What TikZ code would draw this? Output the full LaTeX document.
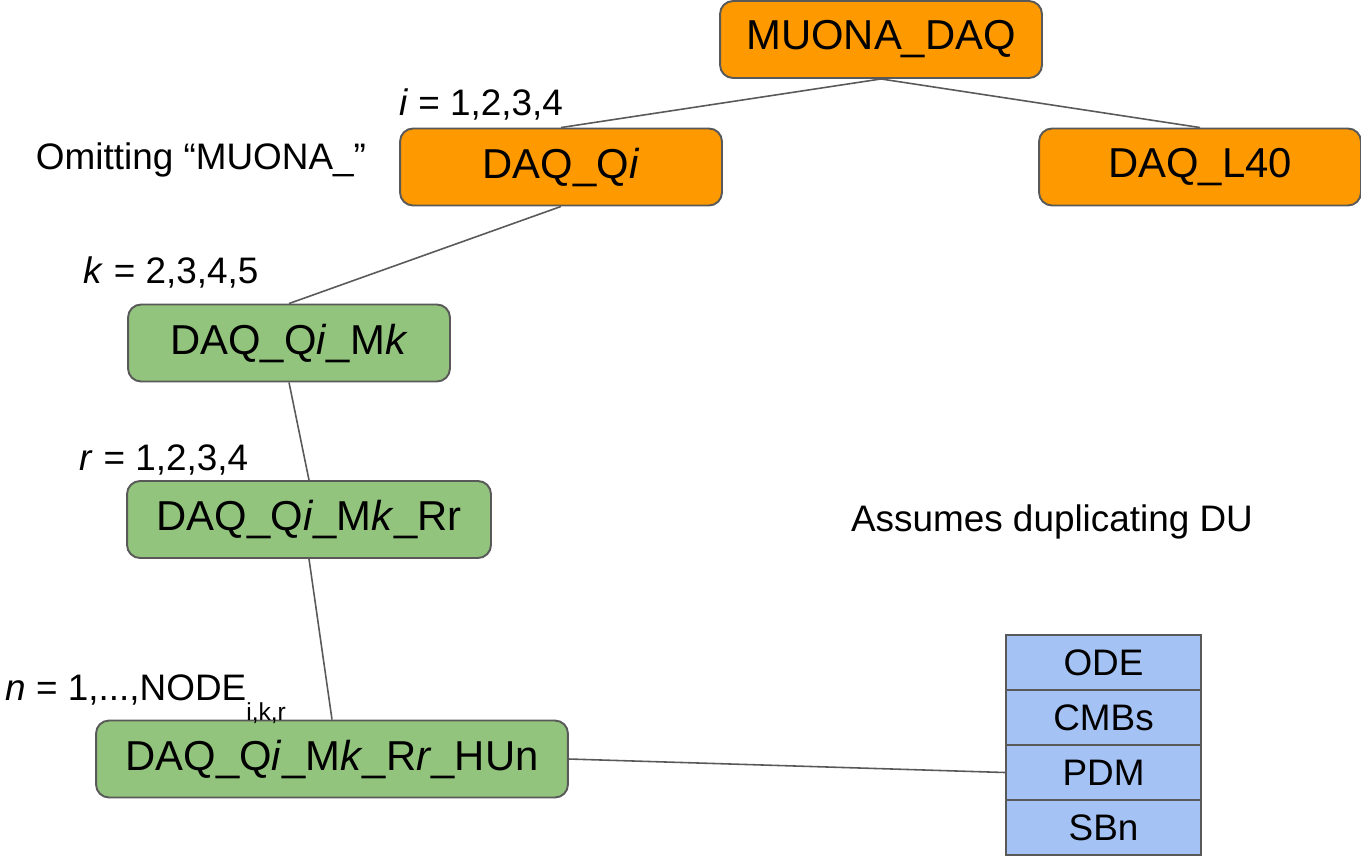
\documentclass[tikz,border=0pt]{standalone}
\usepackage{fontspec}
\setmainfont{Liberation Sans}
\definecolor{daqorange}{HTML}{FF9900}
\definecolor{daqgreen}{HTML}{93C47D}
\definecolor{daqblue}{HTML}{A4C2F4}
\definecolor{edgegray}{HTML}{595959}
\begin{document}
\begin{tikzpicture}[x=0.02cm,y=-0.02cm,
    box/.style={draw=edgegray,line width=1.1pt,rounded corners=0.26cm,
      minimum width=6.44cm,minimum height=1.54cm,inner sep=0pt,
      font=\fontsize{23.8}{28}\selectfont},
    cell/.style={draw=edgegray,line width=1.1pt,fill=daqblue,
      minimum width=3.9cm,minimum height=1.1cm,inner sep=0pt,
      font=\fontsize{21}{25}\selectfont},
    lbl/.style={inner sep=0pt,font=\fontsize{21}{25}\selectfont},
    link/.style={draw=edgegray,line width=0.9pt}]
      \useasboundingbox (0,0) rectangle (1361,856);

      \node[box,fill=daqorange] (A) at (881,39.5) {MUONA\_DAQ};

      \node[box,fill=daqorange] (B) at (561,167) {DAQ\_Q\textit{i}};
      \node[box,fill=daqorange] (C) at (1200,167) {DAQ\_L40};

      \node[box,fill=daqgreen] (D) at (289,343) {DAQ\_Q\textit{i}\_M\textit{k}};
      \node[box,fill=daqgreen,minimum width=7.28cm] (E) at (309,519.5)
        {DAQ\_Q\textit{i}\_M\textit{k}\_Rr};
      \node[box,fill=daqgreen,minimum width=9.44cm] (F) at (332,759)
        {DAQ\_Q\textit{i}\_M\textit{k}\_R\textit{r}\_HUn};

      \node[cell] (G) at (1103.5,662.5) {ODE};
      \node[cell] (H) at (1103.5,717.5) {CMBs};
      \node[cell] (I) at (1103.5,772.5) {PDM};
      \node[cell] (J) at (1103.5,827.5) {SBn};

      \node[lbl] (Li) at (481,104) {\textit{i} = 1,2,3,4};
      \node[lbl] (Lo) at (201,160) {Omitting “MUONA\_”};
      \node[lbl] (Lk) at (171,272) {\textit{k} = 2,3,4,5};
      \node[lbl] (Lr) at (164,460) {\textit{r} = 1,2,3,4};
      \node[lbl,anchor=base west] (Ln) at (5,700)
        {\textit{n} = 1,...,NODE\raisebox{-0.4cm}{\fontsize{14}{16}\selectfont i,k,r}};
      \node[lbl] (Ld) at (1052,522) {Assumes duplicating DU};

      \draw[link] (A.south) -- (B.north);
      \draw[link] (A.south) -- (C.north);
      \draw[link] (B.south) -- (D.north);
      \draw[link] (D.south) -- (E.north);
      \draw[link] (E.south) -- (F.north);
      \draw[link] (F.east) -- (I.west);
    \end{tikzpicture}
\end{document}
